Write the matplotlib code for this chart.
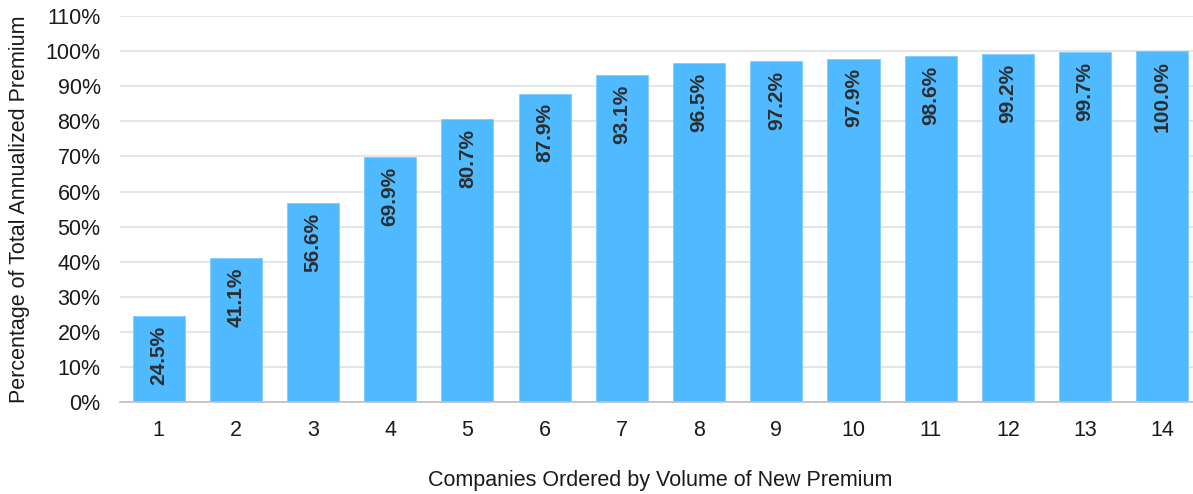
import matplotlib.pyplot as plt
from matplotlib.ticker import PercentFormatter

plt.rcParams['font.family'] = ['Liberation Sans', 'DejaVu Sans']

# cumulative share of premium by company rank
companies = [str(i) for i in range(1, 15)]
cum_share = [24.5, 41.1, 56.6, 69.9, 80.7, 87.9, 93.1, 96.5, 97.2, 97.9, 98.6, 99.2, 99.7, 100.0]
yticks = list(range(0, 111, 10))

fig = plt.figure(figsize=(11.93, 4.94), dpi=100)
ax = fig.add_axes([0.1006, 0.186, 0.906, 0.7815])

x = range(len(companies))
bars = ax.bar(x, cum_share, width=0.675, color='#4FBAFF', edgecolor='#7FCBFF', linewidth=0.6, zorder=2)

for b, v in zip(bars, cum_share):
    ax.annotate(f'{v:.1f}%', (b.get_x() + b.get_width() / 2, v), xytext=(0, -7),
                textcoords='offset points', rotation=90, ha='center', va='top',
                fontsize=15, fontweight='bold', color='#2d2d2d')

ax.set_xlim(-0.5, len(companies) - 0.5)
ax.set_ylim(0, 110)
ax.set_yticks(yticks)
ax.yaxis.set_major_formatter(PercentFormatter(decimals=0))
ax.set_xticks(list(x))
ax.set_xticklabels(companies)
ax.tick_params(axis='both', length=0, labelsize=15.5, colors='#1a1a1a')
ax.tick_params(axis='x', pad=13)
ax.tick_params(axis='y', pad=14)

ax.grid(axis='y', color='#e0e0e0', linewidth=1.2, zorder=0)
for s in ['top', 'right', 'left']:
    ax.spines[s].set_visible(False)
ax.spines['bottom'].set_color('#bfbfbf')
ax.spines['bottom'].set_linewidth(1.2)
ax.spines['bottom'].set_zorder(3)

ax.set_xlabel('Companies Ordered by Volume of New Premium', fontsize=15.5, color='#1a1a1a', labelpad=21)
ax.set_ylabel('Percentage of Total Annualized Premium', fontsize=15.5, color='#1a1a1a', labelpad=11)

fig.savefig('out.png', dpi=100)
